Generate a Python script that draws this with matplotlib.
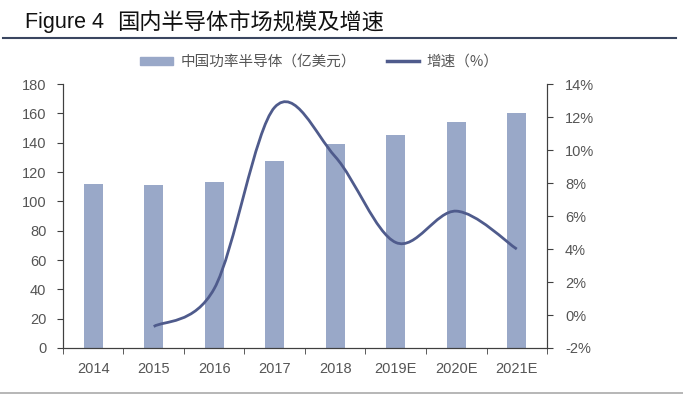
import numpy as np
import matplotlib.pyplot as plt
from matplotlib.path import Path
from matplotlib.patches import PathPatch
from matplotlib.lines import Line2D
from matplotlib.patches import Patch

plt.rcParams['font.family'] = ['Liberation Sans', 'Noto Sans CJK SC', 'DejaVu Sans']

# --- 数据 ---
years = ['2014', '2015', '2016', '2017', '2018', '2019E', '2020E', '2021E']
market = [112, 111, 113, 127.5, 139, 145, 154, 160]       # 亿美元
growth_years = [1, 2, 3, 4, 5, 6, 7]                      # 2015..2021E
growth = [-0.7, 1.6, 12.6, 9.6, 4.4, 6.3, 4.0]             # %

bar_color = '#99A8C8'
line_color = '#4F5B8C'
txt = '#555555'

fig = plt.figure(figsize=(6.83, 3.95), dpi=100)
ax = fig.add_axes([0.0922, 0.119, 0.7087, 0.668])

x = np.arange(len(years))
ax.bar(x, market, width=0.32, color=bar_color, zorder=2)
ax.set_xlim(-0.5, len(years) - 0.5)
ax.set_ylim(0, 180)
ax.set_yticks(range(0, 181, 20))
ax.set_xticks(x)
ax.set_xticklabels(years)
ax.set_xticks(np.arange(-0.5, len(years), 1), minor=True)
ax.tick_params(axis='x', which='major', length=0, pad=10, labelsize=10.5, colors=txt)
ax.tick_params(axis='x', which='minor', length=4, direction='out', color='#404040')
ax.tick_params(axis='y', length=4, direction='out', pad=8, labelsize=10.5, colors=txt, color='#404040')
for s in ['left', 'bottom', 'right']:
    ax.spines[s].set_color('#404040')
ax.spines['top'].set_visible(False)

ax2 = ax.twinx()
ax2.set_ylim(-2, 14)
ax2.set_yticks(range(-2, 15, 2))
ax2.set_yticklabels([f'{v}%' for v in range(-2, 15, 2)])
ax2.tick_params(axis='y', length=4, direction='out', pad=9, labelsize=10.5, colors=txt, color='#404040')
for s in ['left', 'bottom', 'right']:
    ax2.spines[s].set_color('#404040')
ax2.spines['top'].set_visible(False)

# smooth line (Catmull-Rom as cubic Bezier through the points)
pts = np.column_stack([growth_years, growth]).astype(float)
ext = np.vstack([pts[0], pts, pts[-1]])
verts = [tuple(pts[0])]
codes = [Path.MOVETO]
for i in range(1, len(ext) - 2):
    p0, p1, p2, p3 = ext[i - 1], ext[i], ext[i + 1], ext[i + 2]
    c1 = p1 + (p2 - p0) / 6
    c2 = p2 - (p3 - p1) / 6
    verts += [tuple(c1), tuple(c2), tuple(p2)]
    codes += [Path.CURVE4] * 3
ax2.add_patch(PathPatch(Path(verts, codes), fill=False, edgecolor=line_color, lw=2, zorder=3))

# legend
handles = [Patch(color=bar_color), Line2D([], [], color=line_color, lw=2.5)]
fig.legend(handles, ['中国功率半导体（亿美元）', '增速（%）'], loc='center',
           bbox_to_anchor=(0.468, 0.843), ncol=2, frameon=False,
           labelcolor=txt, handlelength=2.2, handleheight=0.5, columnspacing=2.1,
           handletextpad=0.55, prop={'family': ['Noto Sans CJK SC'], 'size': 10.5})

# title
fig.text(0.037, 0.943, 'Figure 4', fontsize=15.5, color='#111111', va='center',
         family=['Liberation Sans'])
fig.text(0.171, 0.943, '国内半导体市场规模及增速', fontsize=16, color='#111111',
         va='center', family=['Noto Sans CJK SC'])
fig.add_artist(Line2D([0.005, 0.99], [0.905, 0.905], color='#3A4660', lw=1.5))
fig.add_artist(Line2D([0.0, 1.0], [0.005, 0.005], color='#AAAAAA', lw=1.2))

fig.savefig('out.png', dpi=100, facecolor='white')
